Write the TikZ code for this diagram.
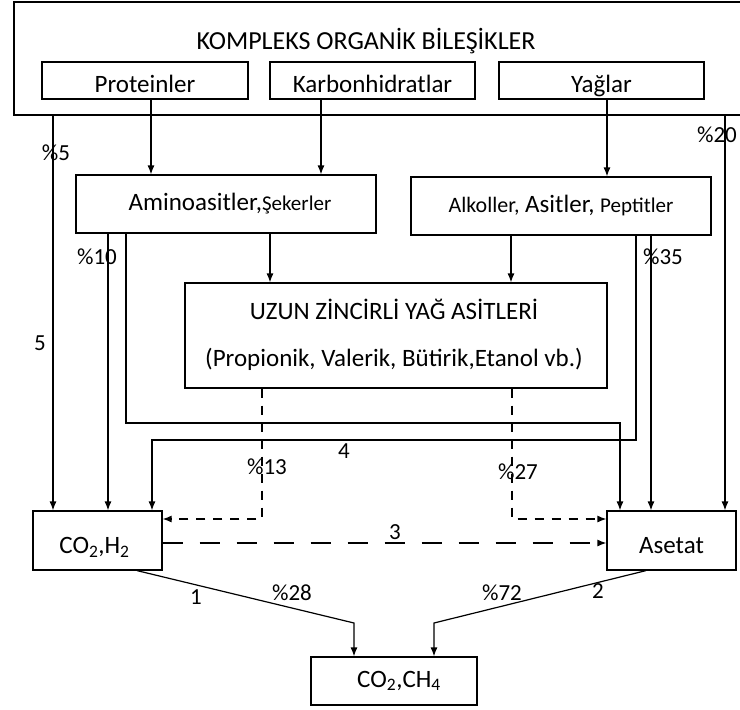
\documentclass[tikz,border=0pt]{standalone}
\usepackage{fontspec}
\setmainfont{Carlito}
\usetikzlibrary{arrows.meta}
\newcommand\myfs[1]{\fontsize{#1}{#1}\selectfont}
\begin{document}
\begin{tikzpicture}[x=1pt,y=-1pt,
  ln/.style={line width=1.2pt},
  arr/.style={-{Latex[length=9pt,width=7pt]}},
  sdash/.style={dash pattern=on 9pt off 8pt},
  ldash/.style={dash pattern=on 20pt off 17pt},
  box/.style={draw,line width=1.2pt,inner sep=0pt,font=\myfs{25}},
  low/.style={text height=24pt,text depth=0pt},
  lbl/.style={inner sep=0pt,font=\myfs{23}}]
\useasboundingbox (0,0) rectangle (740,710);
\clip (0,0) rectangle (740,710);
% boxes
\node[box,minimum width=728pt,minimum height=113pt] (outer) at (378,58.5) {};
\node[inner sep=0pt,font=\myfs{26}] (title) at (366,41) {KOMPLEKS ORGANİK BİLEŞİKLER};
\node[box,low,minimum width=206pt,minimum height=37pt] (prot) at (145,80.5) {Proteinler};
\node[box,low,minimum width=205pt,minimum height=37pt] (karb) at (372.5,80.5) {Karbonhidratlar};
\node[box,low,minimum width=205pt,minimum height=37pt] (yag) at (601.5,80.5) {Yağlar};
\node[box,minimum width=300pt,minimum height=58pt] (amino) at (226,204) {\hspace*{8pt}Aminoasitler,{\myfs{21}Şekerler}};
\node[box,minimum width=300pt,minimum height=58pt] (alk) at (561,206) {{\myfs{22}Alkoller,} Asitler, {\myfs{21}Peptitler}};
\node[box,minimum width=422pt,minimum height=105pt] (uzun) at (396,335.5) {};
\node[inner sep=0pt,font=\myfs{25}] (uzun1) at (394,309) {UZUN ZİNCİRLİ YAĞ ASİTLERİ};
\node[inner sep=0pt,font=\myfs{25}] (uzun2) at (394,359) {(Propionik, Valerik, Bütirik,Etanol vb.)};
\node[box,text height=26pt,text depth=0pt,minimum width=129pt,minimum height=59pt] (co2h2) at (97.5,540.5) {CO\textsubscript{2},H\textsubscript{2}\hspace*{6pt}};
\node[box,text height=25pt,text depth=0pt,minimum width=129pt,minimum height=59pt] (asetat) at (671.5,540.5) {Asetat};
\node[box,minimum width=166pt,minimum height=48pt] (ch4) at (394,681) {\hspace*{10pt}CO\textsubscript{2},CH\textsubscript{4}};
% coordinates
\coordinate (p5) at (53,0);
\coordinate (p20) at (725,0);
\coordinate (pprot) at (151,0);
\coordinate (pkarb) at (321,0);
\coordinate (pyag) at (607,0);
\coordinate (p10) at (108,0);
\coordinate (k1) at (126,423);
\coordinate (k2) at (620,423);
\coordinate (pa1) at (270,0);
\coordinate (pa2) at (511,0);
\coordinate (k3) at (636,440);
\coordinate (k4) at (152,440);
\coordinate (p35) at (651,0);
\coordinate (d1) at (262,519);
\coordinate (d2) at (512,519);
\coordinate (h3) at (0,543);
\coordinate (g1) at (137,0);
\coordinate (g2) at (354,623);
\coordinate (g3) at (646,0);
\coordinate (g4) at (434,623);
% connectors
\draw[ln,arr] (outer.south -| p5) -- (co2h2.north -| p5);
\draw[ln,arr] (outer.south -| p20) -- (asetat.north -| p20);
\draw[ln,arr] (prot.south -| pprot) -- (amino.north -| pprot);
\draw[ln,arr] (karb.south -| pkarb) -- (amino.north -| pkarb);
\draw[ln,arr] (yag.south -| pyag) -- (alk.north -| pyag);
\draw[ln,arr] (amino.south -| p10) -- (co2h2.north -| p10);
\draw[ln,arr] (amino.south -| k1) -- (k1) -- (k2) -- (asetat.north -| k2);
\draw[ln,arr] (amino.south -| pa1) -- (uzun.north -| pa1);
\draw[ln,arr] (alk.south -| pa2) -- (uzun.north -| pa2);
\draw[ln,arr] (alk.south -| k3) -- (k3) -- (k4) -- (co2h2.north -| k4);
\draw[ln,arr] (alk.south -| p35) -- (asetat.north -| p35);
\draw[ln,sdash,arr] (uzun.south -| d1) -- (d1) -- (co2h2.east |- d1);
\draw[ln,sdash,arr] (uzun.south -| d2) -- (d2) -- (asetat.west |- d2);
\draw[ln,ldash,arr] (co2h2.east |- h3) -- (asetat.west |- h3);
\draw[ln,arr] (co2h2.south -| g1) -- (g2) -- (ch4.north -| g2);
\draw[ln,arr] (asetat.south -| g3) -- (g4) -- (ch4.north -| g4);
% labels
\node[lbl] (l5) at (56,153) {\%5};
\node[lbl] (l20) at (717,135) {\%20};
\node[lbl] (l10) at (97,257) {\%10};
\node[lbl] (l35) at (663,257) {\%35};
\node[lbl] (lfive) at (40,343) {5};
\node[lbl] (lfour) at (344,451) {4};
\node[lbl] (l13) at (267,467) {\%13};
\node[lbl] (l27) at (518,472) {\%27};
\node[lbl] (lthree) at (395,532) {3};
\node[lbl] (lone) at (196,597) {1};
\node[lbl] (l28) at (292,593) {\%28};
\node[lbl] (l72) at (502,593) {\%72};
\node[lbl] (ltwo) at (598,591) {2};
\end{tikzpicture}
\end{document}
